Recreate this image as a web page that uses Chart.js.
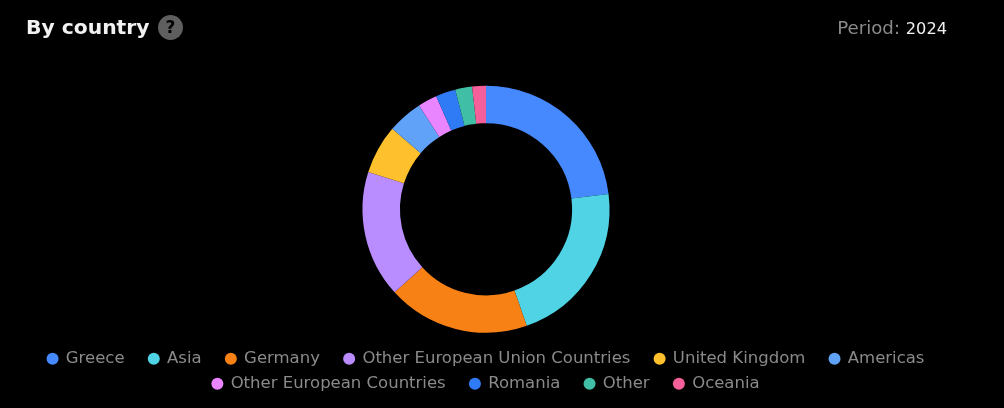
<!DOCTYPE html>
<html><head><meta charset="utf-8">
<style>
html,body{margin:0;padding:0;background:#000;width:1004px;height:408px;overflow:hidden}
body{position:relative;font-family:"DejaVu Sans",sans-serif}
#wrap{position:absolute;left:0;top:0;width:972px;height:408px}
#title{position:absolute;left:26px;top:11px;font-size:20.3px;line-height:32px;font-weight:700;color:#f2f2f2}
#q{position:absolute;left:158px;top:15px;width:25px;height:25px;border-radius:50%;background:#5f5f5f;color:#000;font-size:17px;font-weight:700;line-height:25px;text-align:center}
#period{position:absolute;right:57px;top:15px;font-size:18.2px;line-height:26px;color:#8a8a8a}
#period b{color:#f0f0f0;font-weight:400;font-size:16.2px}
</style></head><body>
<div id="wrap"><canvas id="c"></canvas></div>
<div id="title">By country</div><div id="q">?</div>
<div id="period">Period: <b>2024</b></div>
<script src="https://cdn.jsdelivr.net/npm/chart.js@4/dist/chart.umd.min.js"></script>
<script>
const categories=["Greece","Asia","Germany","Other European Union Countries","United Kingdom","Americas","Other European Countries","Romania","Other","Oceania"];
const values=[23.0,21.6,18.6,16.6,6.4,4.6,2.5,2.6,2.2,1.8];
const colors=["#4689ff","#4fd3e5","#f78115","#b98cff","#ffc02e","#5fa2f8","#e985ff","#2f7bf5","#40bfa6","#f6609a"];
const legendGap="\u00a0\u00a0\u00a0";
const rowEnds=["Americas","Oceania"];
new Chart(document.getElementById('c'),{type:'doughnut',
data:{labels:categories,datasets:[{data:values,backgroundColor:colors,borderWidth:0}]},
options:{responsive:true,maintainAspectRatio:false,animation:false,radius:123.5,cutout:'69.7%',
layout:{padding:{top:76.5,bottom:6}},
plugins:{tooltip:{enabled:false},
legend:{position:'bottom',labels:{usePointStyle:true,pointStyle:'circle',boxWidth:10,boxHeight:8.5,padding:8.5,color:'#8a8a8a',font:{family:'"DejaVu Sans"',size:16.5},
generateLabels(chart){return Chart.overrides.doughnut.plugins.legend.labels.generateLabels(chart).map(l=>({...l,text:rowEnds.includes(l.text)?l.text:l.text+legendGap}));}}}}}});
</script></body></html>
